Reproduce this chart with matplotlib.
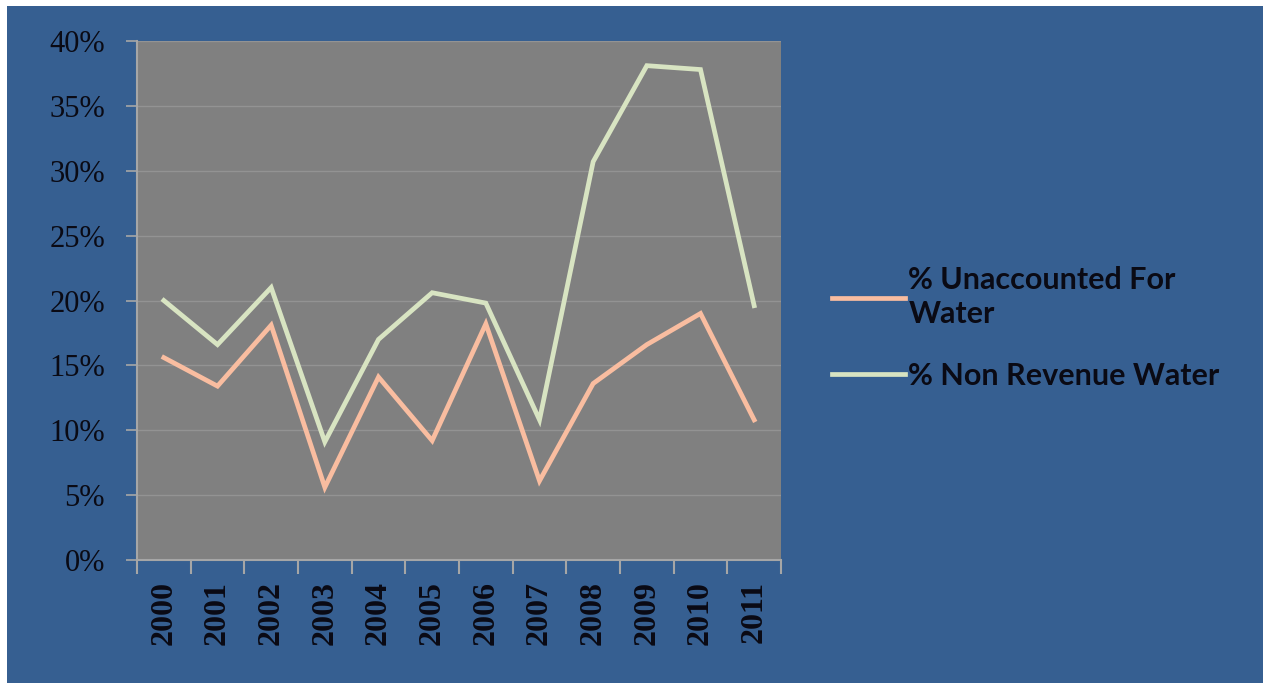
import matplotlib.pyplot as plt
from matplotlib.patches import Rectangle

years = ['2000', '2001', '2002', '2003', '2004', '2005',
         '2006', '2007', '2008', '2009', '2010', '2011']
unaccounted = [15.6, 13.4, 18.1, 5.6, 14.1, 9.2, 18.2, 6.1, 13.6, 16.6, 19.0, 10.8]
non_revenue = [20.0, 16.6, 21.0, 9.1, 17.0, 20.6, 19.8, 10.8, 30.7, 38.1, 37.8, 19.6]
yticks = [0, 5, 10, 15, 20, 25, 30, 35, 40]

blue = '#365F91'
fig = plt.figure(figsize=(12.63, 6.83), dpi=100, facecolor='white')
# blue chart area inside a thin white margin
fig.patches.append(Rectangle((7 / 1263, 0), 1, 1 - 6 / 683, transform=fig.transFigure,
                             facecolor=blue, edgecolor='none', zorder=-5))

ax = fig.add_axes([137 / 1263, 1 - 560 / 683, (781 - 137) / 1263, (560 - 41) / 683])
ax.set_zorder(2)
ax.set_facecolor('#808080')

x = list(range(len(years)))
ax.plot(x, unaccounted, color='#F9BDA0', lw=3.4, label='% Unaccounted For\nWater',
        solid_joinstyle='miter')
ax.plot(x, non_revenue, color='#D8E4C2', lw=3.4, label='% Non Revenue Water',
        solid_joinstyle='miter')

ax.set_xlim(-0.5, len(years) - 0.5)
ax.set_ylim(0, 40)
ax.set_yticks(yticks)
ax.set_yticklabels([f'{v}%' for v in yticks], fontfamily='Liberation Serif', fontsize=22,
                   color='#0A0A14')
ax.yaxis.grid(True, color='#939393', lw=1)
ax.set_axisbelow(True)

ax.set_xticks([i - 0.5 for i in range(len(years) + 1)])
ax.set_xticklabels([])
ax.set_xticks(x, minor=True)
ax.set_xticklabels(years, minor=True, rotation=90, fontfamily='Liberation Serif',
                   fontsize=23, fontweight='bold', color='#0A0A14')
ax.tick_params(axis='x', which='minor', length=0, pad=15)
ax.tick_params(axis='x', which='major', length=10, width=1.5, color='#A6A6A6', direction='out')
ax.tick_params(axis='y', length=8, width=1.2, color='#A6A6A6', pad=15)

for s in ['top', 'right']:
    ax.spines[s].set_visible(False)
for s in ['left', 'bottom']:
    ax.spines[s].set_color('#A6A6A6')
    ax.spines[s].set_linewidth(1.5)

leg = fig.legend(loc='center left', bbox_to_anchor=(832 / 1263, 1 - 328 / 683),
                 frameon=False, handlelength=2.4, handletextpad=0.1, borderpad=0,
                 borderaxespad=0, labelspacing=1.1,
                 prop={'family': 'Lato', 'size': 22, 'weight': 'bold'})
for t in leg.get_texts():
    t.set_color('#0A0A14')
    t.set_linespacing(1.25)

fig.savefig('out.png', dpi=100, facecolor=fig.get_facecolor())
